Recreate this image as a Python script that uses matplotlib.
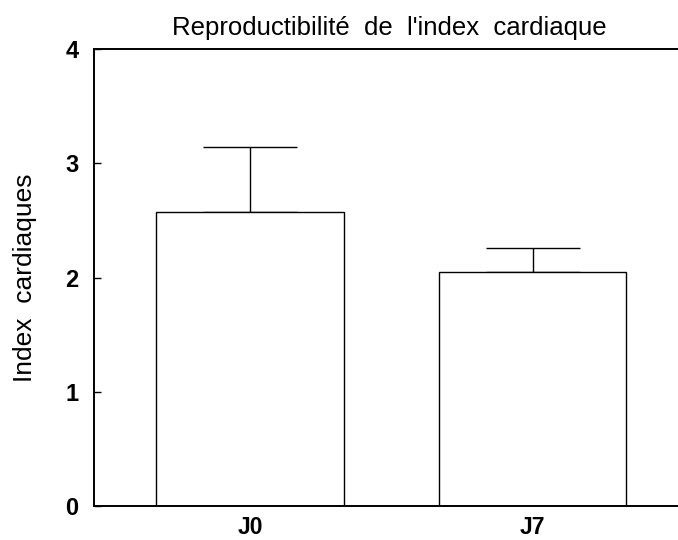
import matplotlib.pyplot as plt

plt.rcParams['font.family'] = ['Liberation Sans', 'DejaVu Sans']

GROUPS = ["J0", "J7"]
MEANS = [2.57, 2.045]
ERRORS = [0.57, 0.215]
YTICKS = [0, 1, 2, 3, 4]

fig = plt.figure(figsize=(6.78, 5.4), dpi=100)
# the frame runs off the right-hand edge of the figure
ax = fig.add_axes([0.1391, 0.063, 0.893, 0.8462])

x = list(range(len(GROUPS)))
ax.bar(x, MEANS, width=0.664, color='white', edgecolor='black', linewidth=1.0, zorder=2)
ax.errorbar(x, MEANS, yerr=[[0] * len(ERRORS), ERRORS], fmt='none',
            ecolor='black', elinewidth=1.0, capsize=34, capthick=1.0, zorder=1)

ax.set_xlim(-0.552, 1.592)
ax.set_ylim(0, 4)
ax.set_yticks(YTICKS)
ax.set_yticklabels([str(t) for t in YTICKS], fontsize=17, fontweight='bold')
ax.set_xticks(x)
ax.set_xticklabels(GROUPS, fontsize=16.5, fontweight='bold')
ax.tick_params(axis='y', direction='in', length=5, width=1.0, pad=11.5)
ax.tick_params(axis='x', length=0, pad=7)

for side in ['left', 'top', 'bottom']:
    ax.spines[side].set_linewidth(1.4)
ax.spines['right'].set_visible(False)

ax.set_ylabel("Index  cardiaques", fontsize=19, labelpad=20)
ax.set_title("Reproductibilité  de  l'index  cardiaque", fontsize=18.5, pad=10, x=0.488)

fig.savefig("out.png", dpi=100)
